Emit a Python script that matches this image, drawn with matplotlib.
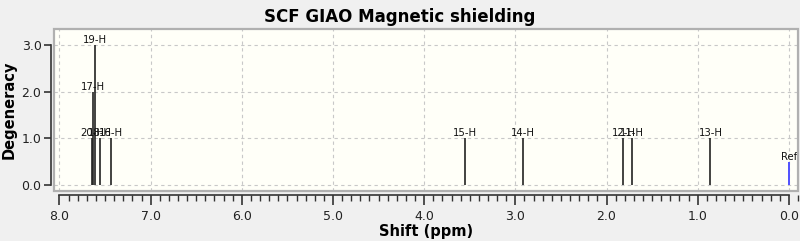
import matplotlib.pyplot as plt
from matplotlib.patches import Rectangle
from matplotlib.ticker import MultipleLocator

# peak data
labels = ["20-H", "17-H", "19-H", "18-H", "16-H", "15-H", "14-H", "12-H", "11-H", "13-H"]
shifts = [7.64, 7.63, 7.61, 7.56, 7.44, 3.55, 2.92, 1.815, 1.725, 0.86]
degen = [1, 2, 3, 1, 1, 1, 1, 1, 1, 1]
ref_shift = 0.0
ref_height = 0.5

plt.rcParams['font.family'] = ['DejaVu Sans']

fig = plt.figure(figsize=(8.0, 2.41), dpi=100, facecolor='#f0f0f0')
ax = fig.add_axes([0.0675, 0.2075, 0.93, 0.672])
ax.set_facecolor('#fffff8')

for s, d, lab in zip(shifts, degen, labels):
    ax.vlines(s, 0, d, color='#222222', lw=1.2, zorder=3)
    ax.text(s, d, lab, ha='center', va='bottom', fontsize=7.3, color='#111111', zorder=4)

ax.vlines(ref_shift, 0, ref_height, color='#5050ff', lw=1.4, zorder=3)
ax.text(ref_shift, ref_height, "Ref", ha='center', va='bottom', fontsize=7.3, color='#111111')

ax.set_xlim(8.06, -0.1)
ax.set_ylim(-0.13, 3.34)
ax.xaxis.set_major_locator(MultipleLocator(1.0))
ax.xaxis.set_minor_locator(MultipleLocator(0.1))
ax.yaxis.set_major_locator(MultipleLocator(1.0))
ax.xaxis.set_major_formatter(plt.FormatStrFormatter('%.1f'))
ax.yaxis.set_major_formatter(plt.FormatStrFormatter('%.1f'))

ax.grid(True, ls=(0, (3, 3)), color='#c8c8c8', lw=0.8)
ax.set_axisbelow(True)

# gray frame round the plot area
ax.add_patch(Rectangle((0, 0), 1, 1, transform=ax.transAxes, fill=False,
                       ec='#b0b0b0', lw=1.6, clip_on=False, zorder=5))
for side in ['top', 'right']:
    ax.spines[side].set_visible(False)
ax.spines['bottom'].set_position(('outward', 3))
ax.spines['left'].set_position(('outward', 2))
ax.spines['bottom'].set_bounds(8.0, 0.0)
ax.spines['left'].set_bounds(0.0, 3.0)
for side in ['bottom', 'left']:
    ax.spines[side].set_color('#333333')
    ax.spines[side].set_linewidth(1.2)

ax.tick_params(axis='both', which='major', direction='out', length=7, width=1.2,
               color='#333333', labelsize=9, labelcolor='#222222')
ax.tick_params(axis='y', which='major', length=5, pad=2)
ax.tick_params(axis='x', which='minor', direction='out', length=4, width=1, color='#333333')

ax.set_xlabel("Shift (ppm)", fontsize=10.5, fontweight='bold', labelpad=1)
fig.text(0.011, 0.545, "Degeneracy", rotation=90, ha='center', va='center',
         fontsize=10.5, fontweight='bold')
fig.text(0.5, 0.93, "SCF GIAO Magnetic shielding", ha='center', va='center',
         fontsize=12, fontweight='bold')

fig.savefig("out.png", dpi=100, facecolor=fig.get_facecolor())
